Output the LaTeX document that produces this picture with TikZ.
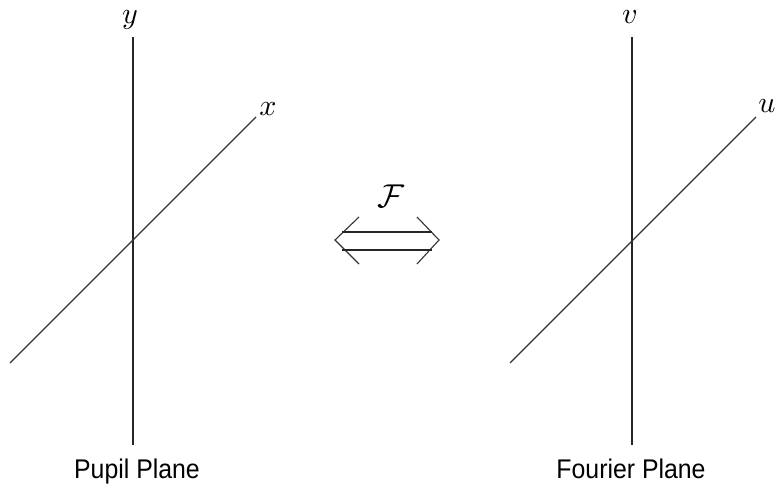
\documentclass[tikz,border=0pt]{standalone}
\usepackage{fontspec}
\newfontfamily\planefont[FakeStretch=0.92]{Liberation Sans}
\tikzset{
  axis/.style={line width=1.4pt, black!85},
  diag/.style={line width=1.1pt, black!80},
  axislabel/.style={anchor=base, inner sep=0pt, scale=3},
  planelabel/.style={anchor=base, inner sep=0pt, font=\planefont\fontsize{27}{32}\selectfont}
}
\begin{document}
\begin{tikzpicture}[x=1pt,y=-1pt]
        \useasboundingbox (0,0) rectangle (776,489);

        % Pupil plane
        \coordinate (ptop) at (133,37);
        \coordinate (pbot) at (133,445);
        \coordinate (plo) at (10,363);
        \coordinate (phi) at (256,117);
        \draw[axis] (ptop) -- (pbot);
        \draw[diag] (plo) -- (phi);
        \node[axislabel] (py) at (130,24) {$y$};
        \node[axislabel] (px) at (268,116) {$x$};
        \node[planelabel] (pupil) at (137,478) {Pupil Plane};

        % Fourier plane
        \coordinate (ftop) at (632,37);
        \coordinate (fbot) at (632,445);
        \coordinate (flo) at (510,363);
        \coordinate (fhi) at (756,117);
        \draw[axis] (ftop) -- (fbot);
        \draw[diag] (flo) -- (fhi);
        \node[axislabel] (fv) at (630,24) {$v$};
        \node[axislabel] (fu) at (767,113) {$u$};
        \node[planelabel] (fourier) at (631,478) {Fourier Plane};

        % Transform arrow
        \coordinate (al) at (335,240);
        \coordinate (ar) at (439,240);
        \draw[diag] ([shift={(24,-23)}]al) -- (al) -- ([shift={(24,24)}]al);
        \draw[diag] ([shift={(-22,-23)}]ar) -- (ar) -- ([shift={(-22,24)}]ar);
        \draw[axis] ([shift={(7,-8)}]al) -- ([shift={(-7,-8)}]ar);
        \draw[axis] ([shift={(7,10)}]al) -- ([shift={(-7,10)}]ar);
        \node[axislabel, scale=1.1] (ft) at (391,207) {$\mathcal{F}$};
    \end{tikzpicture}
\end{document}
